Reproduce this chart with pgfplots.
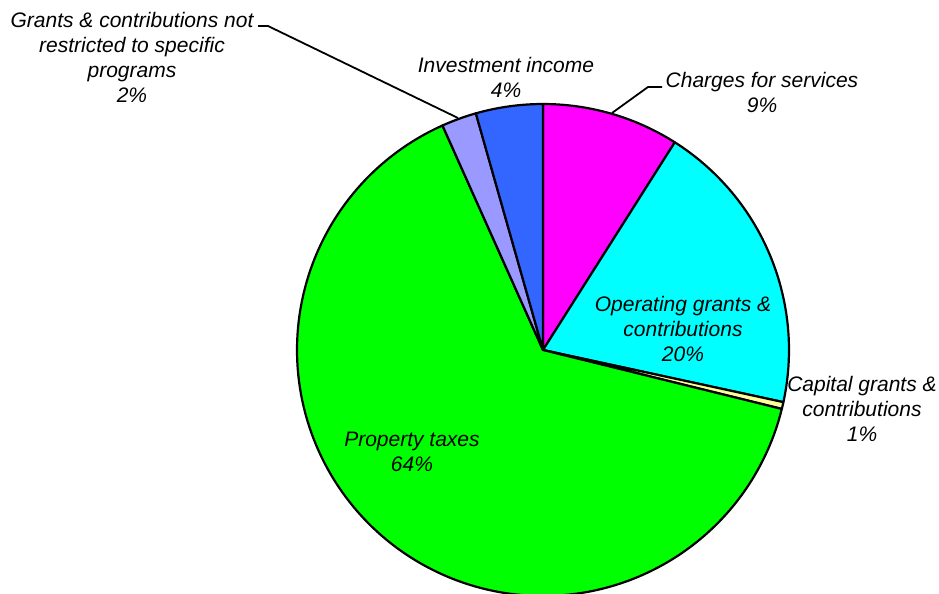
\documentclass[border=0pt]{standalone}
\usepackage{pgfplots}
\pgfplotsset{compat=1.18}
\usepackage{fontspec}
\setmainfont{Liberation Sans}
\definecolor{cCharges}{HTML}{FF00FF}
\definecolor{cOper}{HTML}{00FFFF}
\definecolor{cCap}{HTML}{FFFF99}
\definecolor{cProp}{HTML}{00FF00}
\definecolor{cGrant}{HTML}{9999FF}
\definecolor{cInv}{HTML}{3366FF}
% slice shares in percent (clockwise from 12 o'clock)
\def\vCharges{9.0}
\def\vOper{19.4}
\def\vCap{0.45}
\def\vProp{64.45}
\def\vGrant{2.3}
\def\vInv{4.4}
\pgfmathsetmacro\aO{90}
\pgfmathsetmacro\aA{\aO-3.6*\vCharges}
\pgfmathsetmacro\aB{\aA-3.6*\vOper}
\pgfmathsetmacro\aC{\aB-3.6*\vCap}
\pgfmathsetmacro\aD{\aC-3.6*\vProp}
\pgfmathsetmacro\aE{\aD-3.6*\vGrant}
\pgfmathsetmacro\aF{\aE-3.6*\vInv}
\def\R{246}
\begin{document}
\begin{tikzpicture}
\useasboundingbox (0,0) rectangle (939bp,594bp);
\begin{axis}[
  x=1bp, y=1bp,
  xmin=-543, xmax=396, ymin=-244, ymax=350,
  hide axis, clip=false,
  every axis plot/.append style={line join=round},
  nodes={font=\fontsize{21bp}{25bp}\selectfont\itshape, align=center, text=black},
]
\addplot[fill=cCharges, draw=black, line width=2.2bp, domain=\aA:\aO, samples=40, variable=\t] ({\R*cos(t)},{\R*sin(t)}) -- (axis cs:0,0) -- cycle;
\addplot[fill=cOper, draw=black, line width=2.2bp, domain=\aB:\aA, samples=60, variable=\t] ({\R*cos(t)},{\R*sin(t)}) -- (axis cs:0,0) -- cycle;
\addplot[fill=cCap, draw=black, line width=2.2bp, domain=\aC:\aB, samples=5, variable=\t] ({\R*cos(t)},{\R*sin(t)}) -- (axis cs:0,0) -- cycle;
\addplot[fill=cProp, draw=black, line width=2.2bp, domain=\aD:\aC, samples=150, variable=\t] ({\R*cos(t)},{\R*sin(t)}) -- (axis cs:0,0) -- cycle;
\addplot[fill=cGrant, draw=black, line width=2.2bp, domain=\aE:\aD, samples=10, variable=\t] ({\R*cos(t)},{\R*sin(t)}) -- (axis cs:0,0) -- cycle;
\addplot[fill=cInv, draw=black, line width=2.2bp, domain=\aF:\aE, samples=20, variable=\t] ({\R*cos(t)},{\R*sin(t)}) -- (axis cs:0,0) -- cycle;
% leader lines
\addplot[black, line width=1.8bp] coordinates {(-285,324) (-275,324) (-85,232)};
\addplot[black, line width=1.8bp] coordinates {(69,237) (105,263) (119,263)};
% labels
\node at (axis cs:-411,293) {Grants \& contributions not\\restricted to specific\\programs\\2\%};
\node at (axis cs:-37,273) {Investment income\\4\%};
\node at (axis cs:219,258) {Charges for services\\9\%};
\node at (axis cs:140,21) {Operating grants \&\\contributions\\20\%};
\node at (axis cs:319,-59) {Capital grants \&\\contributions\\1\%};
\node at (axis cs:-131,-102) {Property taxes\\64\%};
\end{axis}
\end{tikzpicture}
\end{document}
